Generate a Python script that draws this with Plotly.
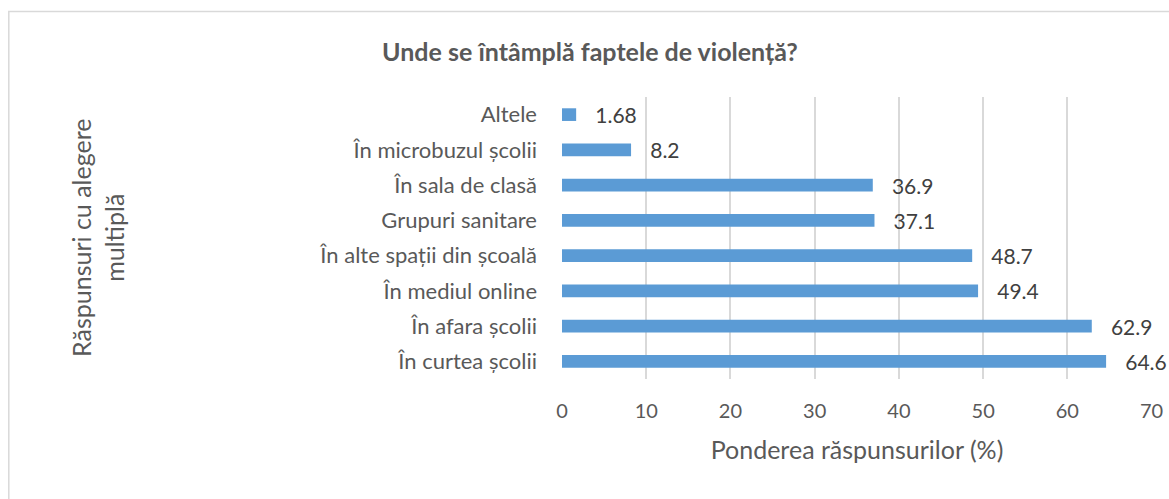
import plotly.graph_objects as go

# categories from bottom to top (as drawn)
locuri = ["În curtea școlii", "În afara școlii", "În mediul online",
          "În alte spații din școală", "Grupuri sanitare", "În sala de clasă",
          "În microbuzul școlii", "Altele"]
ponderi = [64.6, 62.9, 49.4, 48.7, 37.1, 36.9, 8.2, 1.68]
etichete = ["64.6", "62.9", "49.4", "48.7", "37.1", "36.9", "8.2", "1.68"]
x_ticks = [0, 10, 20, 30, 40, 50, 60, 70]

W, H = 1169, 499
# plot area in pixels: x 562..1152, y 97..379
ML, MT = 562, 97
MR, MB = W - 1152, H - 379
FONT = "Lato, Open Sans, sans-serif"
GREY = "#595959"

fig = go.Figure(go.Bar(
    y=locuri, x=ponderi, orientation="h",
    marker=dict(color="#5B9BD5", line=dict(width=0)),
    text=etichete, texttemplate="\u00a0\u00a0\u00a0%{text}",
    textposition="outside", cliponaxis=False, constraintext="none",
    textfont=dict(family=FONT, size=21, color="#404040"),
))

pw, ph = W - ML - MR, H - MT - MB


def px_x(x):  # pixel -> paper x
    return (x - ML) / pw


def px_y(y):  # pixel -> paper y
    return (H - MB - y) / ph


# light border around the whole chart
fig.add_shape(type="rect", xref="paper", yref="paper",
              x0=px_x(8.8), x1=px_x(1200), y0=px_y(560), y1=px_y(11.5),
              line=dict(color="#D9D9D9", width=1.5), fillcolor="rgba(0,0,0,0)")

fig.add_annotation(text="Răspunsuri cu alegere<br>multiplă", textangle=-90,
                   xref="paper", yref="paper", x=px_x(97), y=px_y(238),
                   showarrow=False, xanchor="center", yanchor="middle",
                   font=dict(family=FONT, size=25, color=GREY))

fig.update_layout(
    width=W, height=H,
    margin=dict(l=ML, r=MR, t=MT, b=MB, autoexpand=False),
    paper_bgcolor="white", plot_bgcolor="white",
    bargap=0.64, showlegend=False,
    title=dict(text="<b>Unde se întâmplă faptele de violență?</b>",
               x=590 / W, xanchor="center",
               y=1 - 52 / H, yanchor="middle",
               font=dict(family=FONT, size=25, color=GREY)),
    xaxis=dict(range=[0, 70.05], tickvals=x_ticks, showgrid=True,
               gridcolor="#D9D9D9", gridwidth=1.5, zeroline=False,
               showline=False, ticklabelstandoff=18,
               ticklabeloverflow="allow",
               tickfont=dict(family=FONT, size=20, color=GREY),
               title=dict(text="Ponderea răspunsurilor (%)", standoff=20,
                          font=dict(family=FONT, size=25, color=GREY))),
    yaxis=dict(showgrid=False, zeroline=False, showline=False,
               ticklabelstandoff=24,
               tickfont=dict(family=FONT, size=22, color=GREY)),
)

# drop the default page margin so the figure sits at the window origin
fig.write_html("out.html", config={"displayModeBar": False},
               post_script="document.body.style.margin='0';")
